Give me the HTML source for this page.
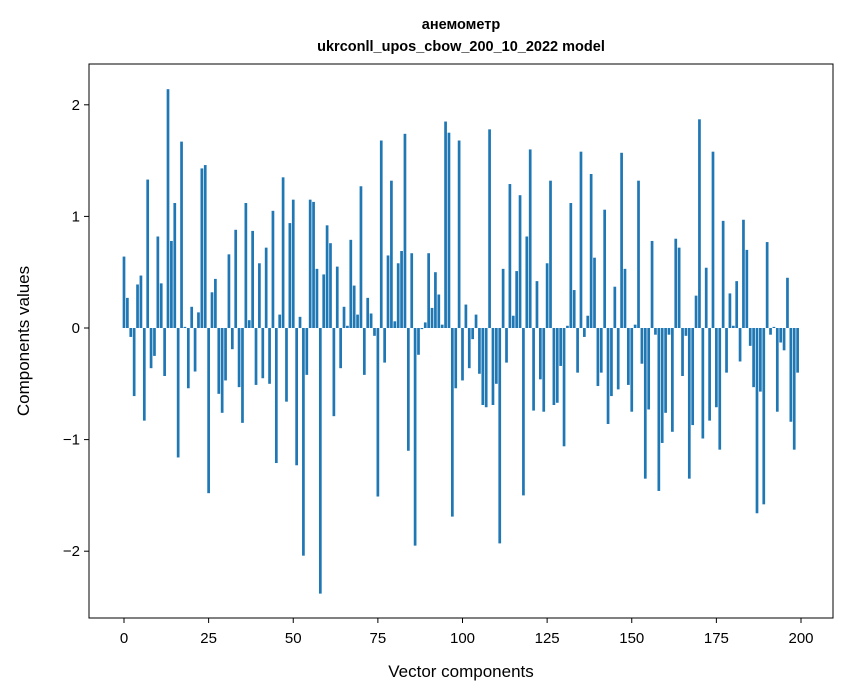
<!DOCTYPE html>
<html><head><meta charset="utf-8"><style>
body{margin:0;background:#fff;}
svg{display:block;font-family:"Liberation Sans","DejaVu Sans",sans-serif;}
</style></head><body>
<svg id="chart" width="847" height="696" viewBox="0 0 847 696">
<text x="461" y="29" text-anchor="middle" font-size="14.5" font-weight="bold">анемометр</text>
<text x="461" y="51" text-anchor="middle" font-size="14.5" font-weight="bold">ukrconll_upos_cbow_200_10_2022 model</text>
<g id="bars"></g>
<g id="axes"></g>
<rect x="89" y="64" width="744" height="554" fill="none" stroke="#000" stroke-width="1"/>
<text x="461" y="677" text-anchor="middle" font-size="17">Vector components</text>
<text transform="translate(29,341) rotate(-90)" text-anchor="middle" font-size="17">Components values</text>
</svg>
<script>
const values = [0.64,0.27,-0.08,-0.61,0.39,0.47,-0.83,1.33,-0.36,-0.25,
0.82,0.40,-0.43,2.14,0.78,1.12,-1.16,1.67,0.01,-0.54,
0.19,-0.39,0.14,1.43,1.46,-1.48,0.32,0.44,-0.59,-0.76,
-0.47,0.66,-0.19,0.88,-0.53,-0.85,1.12,0.07,0.87,-0.51,
0.58,-0.45,0.72,-0.50,1.05,-1.21,0.12,1.35,-0.66,0.94,
1.15,-1.23,0.10,-2.04,-0.42,1.15,1.13,0.53,-2.38,0.48,
0.92,0.76,-0.79,0.55,-0.36,0.19,0.02,0.79,0.38,0.12,
1.27,-0.42,0.27,0.13,-0.07,-1.51,1.68,-0.31,0.65,1.32,
0.06,0.58,0.69,1.74,-1.10,0.67,-1.95,-0.24,-0.01,0.05,
0.67,0.18,0.50,0.30,0.03,1.85,1.75,-1.69,-0.54,1.68,
-0.47,0.21,-0.36,-0.10,0.12,-0.41,-0.69,-0.71,1.78,-0.69,
-0.50,-1.93,0.53,-0.31,1.29,0.11,0.51,1.19,-1.50,0.82,
1.60,-0.74,0.42,-0.46,-0.75,0.58,1.32,-0.69,-0.67,-0.34,
-1.06,0.02,1.12,0.34,-0.40,1.58,-0.08,0.11,1.38,0.63,
-0.52,-0.40,1.06,-0.86,-0.61,0.37,-0.55,1.57,0.53,-0.51,
-0.75,0.03,1.32,-0.32,-1.35,-0.73,0.78,-0.06,-1.46,-1.03,
-0.76,-0.06,-0.93,0.80,0.72,-0.43,-0.07,-1.35,-0.87,0.29,
1.87,-0.99,0.54,-0.83,1.58,-0.71,-1.09,0.96,-0.40,0.31,
0.02,0.42,-0.30,0.97,0.70,-0.16,-0.53,-1.66,-0.57,-1.58,
0.77,-0.06,0.01,-0.75,-0.13,-0.20,0.45,-0.84,-1.09,-0.40];
const xTicks = [0,25,50,75,100,125,150,175,200];
const yTicks = [-2,-1,0,1,2];
const yTickLabels = ["\u22122","\u22121","0","1","2"];

const NS="http://www.w3.org/2000/svg";
const xS = v => 124 + (v)*(677/200);
const yS = v => 328 - v*111.6;
const barW = 0.8*(677/200);
const gb=document.getElementById('bars');
values.forEach((v,i)=>{
  const r=document.createElementNS(NS,'rect');
  const y0=yS(0), y1=yS(v);
  r.setAttribute('x',xS(i)-barW/2);
  r.setAttribute('y',Math.min(y0,y1));
  r.setAttribute('width',barW);
  r.setAttribute('height',Math.abs(y1-y0));
  r.setAttribute('fill','#1f77b4');
  
  
  gb.appendChild(r);
});
const ga=document.getElementById('axes');
xTicks.forEach(t=>{
  const x=xS(t);
  const l=document.createElementNS(NS,'line');
  l.setAttribute('x1',x);l.setAttribute('x2',x);l.setAttribute('y1',618);l.setAttribute('y2',623);
  l.setAttribute('stroke','#000');
  
  
  ga.appendChild(l);
  const tx=document.createElementNS(NS,'text');
  tx.setAttribute('x',x);tx.setAttribute('y',643);tx.setAttribute('text-anchor','middle');tx.setAttribute('font-size','15');
  tx.textContent=t;
  
  
  ga.appendChild(tx);
});
yTicks.forEach((t,k)=>{
  const y=yS(t);
  const l=document.createElementNS(NS,'line');
  l.setAttribute('x1',84);l.setAttribute('x2',89);l.setAttribute('y1',y);l.setAttribute('y2',y);
  l.setAttribute('stroke','#000');
  
  
  ga.appendChild(l);
  const tx=document.createElementNS(NS,'text');
  tx.setAttribute('x',80);tx.setAttribute('y',y+5);tx.setAttribute('text-anchor','end');tx.setAttribute('font-size','15');
  tx.textContent=yTickLabels[k];
  
  
  ga.appendChild(tx);
});
</script>
</body></html>
